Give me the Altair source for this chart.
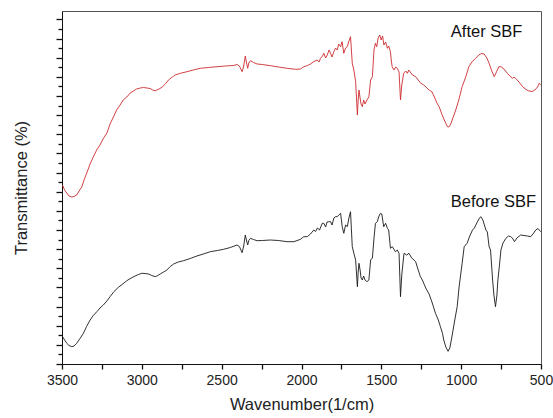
import altair as alt
import pandas as pd

# ---- FTIR spectra (wavenumber in 1/cm, transmittance in arbitrary units) ----
wn_after = [3497,3484,3470,3456,3439,3425,3408,3393,3376,3362,
            3345,3324,3304,3283,3262,3243,3219,3199,3178,3158,
            3136,3117,3094,3073,3053,3033,3010,2990,2968,2948,
            2929,2916,2898,2874,2853,2833,2809,2791,2759,2717,
            2678,2634,2584,2529,2477,2427,2404,2389,2372,2362,
            2352,2345,2337,2330,2320,2301,2278,2245,2195,2144,
            2090,2038,2006,1986,1962,1944,1923,1902,1890,1881,
            1868,1860,1849,1839,1827,1818,1809,1797,1787,1776,
            1767,1755,1746,1735,1724,1713,1705,1693,1682,1672,
            1661,1650,1645,1640,1633,1627,1619,1611,1602,1590,
            1578,1567,1556,1546,1537,1529,1520,1510,1501,1492,
            1484,1473,1462,1454,1443,1438,1432,1421,1410,1400,
            1389,1380,1372,1360,1347,1337,1328,1305,1285,1253,
            1234,1201,1182,1165,1151,1138,1119,1103,1086,1077,
            1065,1052,1034,1015,994,971,952,933,910,889,
            874,856,839,825,808,793,779,764,751,732,
            711,695,678,670,659,638,615,594,576,555,
            538,522,511,502]
t_after = [179,174,171,168,167,167.5,169,173,177,184,
           191,200,207,214,219,225,231,240,247,254,
           259,264,267,271,273,275,276,276.5,276,275.5,
           273.7,273.3,274.5,276.7,280,284,287,289,290.7,292.3,
           294,295.7,296.5,297.3,298,298.5,299.5,298,292.3,298,
           308,302,295.7,301,303.3,301.5,300,299.5,298.3,297,
           295.7,294.7,295,297.3,298.5,300,302.3,304,302,305.7,
           308,310.7,306,309,314,310.7,307,312.3,316,314,
           320,317.3,322.3,310.7,316,317.3,322,327.3,300.7,294,
           282.3,249,264,274,266,260,257.3,264,260,264,
           267.3,284,287.3,314,320.7,317.3,326,329,324,328,
           319,322,315.7,318,312.3,304,297.3,294,297,295.7,
           292,264,279,290.7,293,290.7,294,289,287.3,280.7,
           279,274,272,266,260.7,257.3,249,243,237.3,237,
           240,246,254,264,277.3,287.3,297.3,302,305.7,309,
           310.5,310,306,300.7,293,287.3,292,297.3,297.3,295,
           290.7,288,285.7,287,285.7,282,277.3,274.5,273,272.5,
           274,277,280.7,279]

wn_before = [3496,3484,3470,3456,3439,3425,3408,3387,3366,3346,
             3324,3304,3282,3262,3241,3219,3199,3174,3147,3120,
             3094,3067,3042,3021,3000,2979,2958,2938,2916,2900,
             2885,2864,2843,2822,2801,2772,2739,2697,2655,2615,
             2571,2527,2488,2446,2404,2389,2372,2362,2352,2345,
             2337,2330,2320,2301,2278,2245,2195,2144,2090,2048,
             2006,1986,1964,1944,1923,1912,1900,1887,1870,1860,
             1849,1840,1829,1818,1809,1797,1787,1776,1766,1755,
             1745,1735,1724,1713,1703,1693,1682,1672,1661,1650,
             1645,1640,1633,1627,1619,1611,1602,1590,1578,1567,
             1556,1546,1537,1525,1517,1506,1497,1485,1473,1462,
             1454,1443,1431,1412,1400,1389,1380,1372,1358,1341,
             1327,1310,1295,1285,1269,1255,1243,1222,1201,1181,
             1161,1143,1130,1117,1109,1096,1082,1071,1056,1040,
             1025,1013,994,981,963,946,929,917,902,889,
             877,864,845,836,825,816,803,795,785,776,
             770,760,751,738,720,704,690,679,666,651,
             627,607,585,565,550,533,519,502]
t_before = [27.3,24,20.7,18.5,17.3,18,20.7,25.5,30.7,37.5,
            44,48.5,52.3,56,59,63,67.3,72.5,76.7,80,
            83.3,86,88,89.5,90.7,90.5,90,88.5,87.3,88.5,
            90,92,94,97.5,100,102,103.3,105.5,108,110,
            112.3,113.5,114.7,116.5,119,117.5,111.3,118,129,124,
            119,123.5,125.7,124.5,123.3,123.5,124,123.5,122.3,122.3,
            124.7,127.3,127.3,130,134,132.5,136,134,140.7,140.7,
            137,142,142.3,142.3,139,146,147.3,147.3,149,150.7,
            137.3,130.7,139,137.3,146,152.3,117.3,110.7,104,77.3,
            92,100.7,94,86,84,88,84,82.3,84,104,
            106,125.7,140.7,142.3,147,150.7,150,137.3,140.7,135.7,
            134,115.7,117.3,112.3,114,110.7,67.3,89,110.7,109,
            110.7,106,104,102.3,94,87.3,84,76,70,61,
            50.7,44,37.3,30.7,24,17,12.7,16,29,44,
            57.3,77,100.7,117.3,120.7,128,134,136,141,145,
            147.3,144,134,132,117.3,114,84,69,57.3,69,
            84,99,114,121,125.7,128,127.3,126,122.3,126,
            129,128.5,128,127.3,130,134,135.5,132.3]

series_names = ["After SBF", "Before SBF"]
series_colors = ["#cc2b2f", "#1a1a1a"]

label_text = ["After SBF", "Before SBF"]
label_wn = [1065, 1065]
label_t = [327.5, 157]

x_ticks = list(range(500, 3501, 250))
Y_STEP = 9.57
y_ticks = [round(k * Y_STEP, 3) for k in range(37)]

df = pd.concat([
    pd.DataFrame({"wavenumber": wn_after, "T": t_after, "series": series_names[0]}),
    pd.DataFrame({"wavenumber": wn_before, "T": t_before, "series": series_names[1]}),
], ignore_index=True)
lab = pd.DataFrame({"wavenumber": label_wn, "T": label_t, "label": label_text})

FONT = "Liberation Sans"
x_scale = alt.Scale(domain=[500, 3500], reverse=True, nice=False, zero=False)
y_scale = alt.Scale(domain=[0, 353], nice=False, zero=False)

lines = alt.Chart(df).mark_line(strokeWidth=0.9).encode(
    x=alt.X("wavenumber:Q", scale=x_scale,
            axis=alt.Axis(values=x_ticks, tickCount=200, format="d",
                          labelExpr="datum.value % 500 == 0 ? datum.label : ''",
                          labelFlush=False, labelOverlap=False,
                          tickSize=5, labelPadding=4, titlePadding=9,
                          title="Wavenumber(1/cm)")),
    y=alt.Y("T:Q", scale=y_scale,
            axis=alt.Axis(values=y_ticks, tickCount=200, labels=False,
                          tickSize={"condition": {"test": "round(datum.value / 9.57) % 2 == 0", "value": 6}, "value": 4},
                          titlePadding=26, title="Transmittance (%)")),
    color=alt.Color("series:N", scale=alt.Scale(domain=series_names, range=series_colors), legend=None),
)

texts = alt.Chart(lab).mark_text(align="left", baseline="alphabetic", fontSize=16.5,
                                 font=FONT, color="#111111").encode(
    x=alt.X("wavenumber:Q", scale=x_scale),
    y=alt.Y("T:Q", scale=y_scale),
    text="label:N",
)

chart = alt.layer(lines, texts).properties(
    width=479, height=353,
    padding={"left": 62, "top": 11, "right": 12, "bottom": 54},
    autosize=alt.AutoSizeParams(type="none"),
).configure_view(
    stroke="#555555", strokeWidth=1
).configure_axis(
    grid=False, domainColor="#111111", tickColor="#111111", tickWidth=1.3,
    labelColor="#222222", titleColor="#222222",
    labelFont=FONT, titleFont=FONT, titleFontWeight="normal",
    labelFontSize=14, titleFontSize=16.5,
)

chart.save("out.html", embed_options={"renderer": "svg", "actions": False})
